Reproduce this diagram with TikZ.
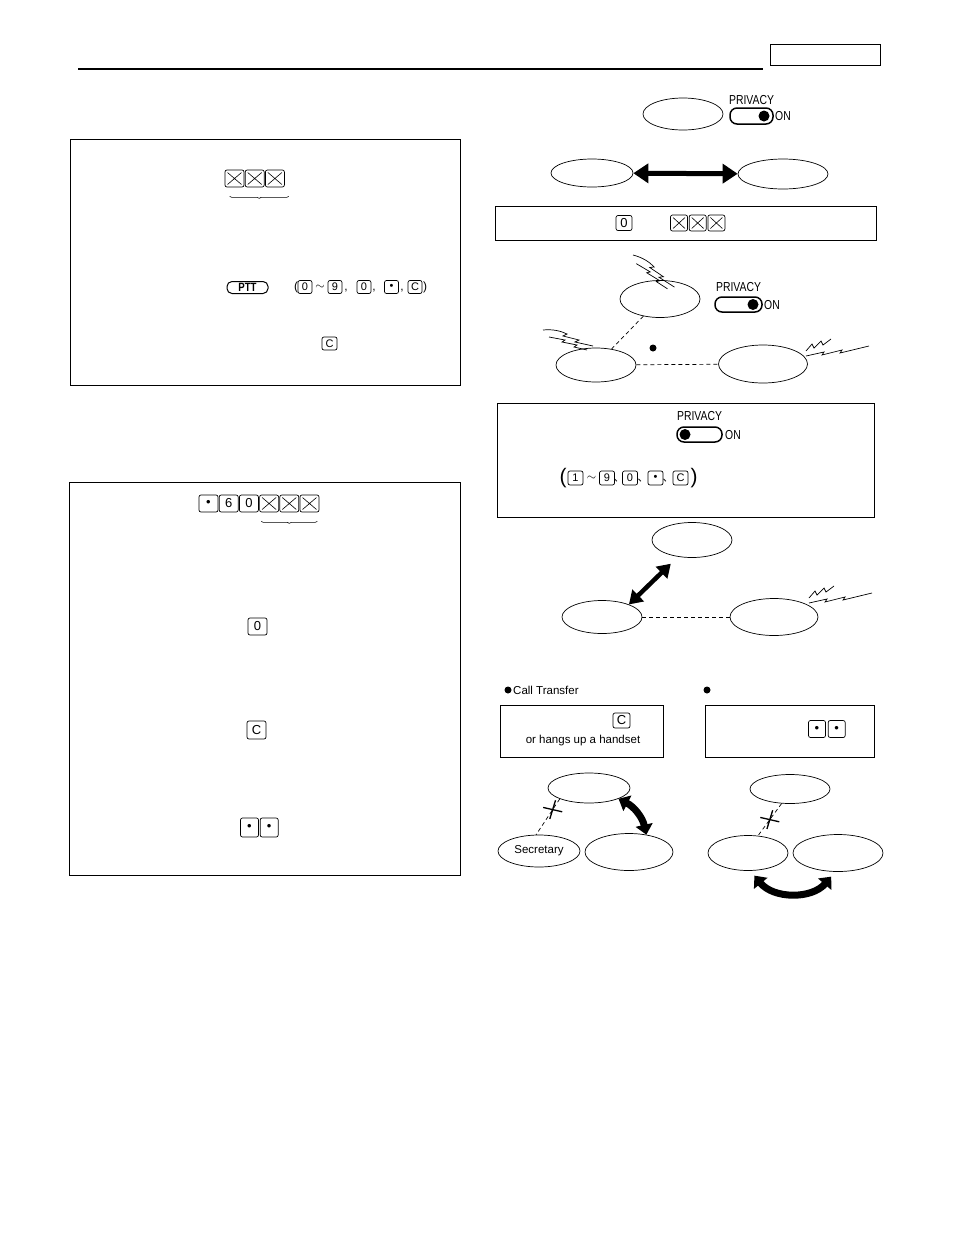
\documentclass[tikz,border=0pt]{standalone}
\usepackage{fontspec}
\setmainfont{Liberation Sans}
\newfontfamily\narrowfont[FakeStretch=0.8]{Liberation Sans}
\newfontfamily\cjkfont{Noto Sans CJK JP}
\usetikzlibrary{arrows.meta, positioning, calc, shapes.geometric, shapes.misc, decorations.pathreplacing}

\begin{document}
\begin{tikzpicture}[
  x=1pt, y=-1pt,
  panel/.style={
    draw,
    line width=0.9pt,
    inner sep=0pt
  },
  phone/.style={
    ellipse,
    draw,
    line width=0.7pt,
    minimum width=80pt,
    minimum height=34pt,
    inner sep=0pt
  },
  key/.style={
    draw,
    line width=0.7pt,
    rounded corners=2pt,
    minimum width=17pt,
    minimum height=16pt,
    inner sep=0pt,
    font=\fontsize{13}{13}\selectfont
  },
  smallkey/.style={
    key,
    minimum width=14pt,
    minimum height=13pt,
    font=\fontsize{11}{11}\selectfont
  },
  xkey/.style={
    key,
    path picture={
      \draw[line width=0.6pt]
        ([shift={(2.5pt,-2.5pt)}]path picture bounding box.north west) --
        ([shift={(-2.5pt,2.5pt)}]path picture bounding box.south east)
        ([shift={(2.5pt,2.5pt)}]path picture bounding box.south west) --
        ([shift={(-2.5pt,-2.5pt)}]path picture bounding box.north east);
    }
  },
  pill/.style={
    draw,
    line width=1.5pt,
    rounded corners=7pt,
    minimum width=44pt,
    minimum height=15pt,
    inner sep=0pt
  },
  knob/.style={circle, fill, inner sep=0pt, minimum size=11pt},
  swlabel/.style={font=\narrowfont\fontsize{13}{13}\selectfont, inner sep=0pt},
  note/.style={font=\fontsize{11.5}{13}\selectfont, inner sep=0pt},
  sign/.style={font=\fontsize{12}{12}\selectfont, inner sep=0pt},
  bulletdot/.style={circle, fill, inner sep=0pt, minimum size=7pt},
  link/.style={dash pattern=on 4pt off 3pt, line width=0.7pt},
  bigarrow/.style={line width=5pt, {Triangle[length=15pt,width=19pt]}-{Triangle[length=15pt,width=19pt]}},
  diagarrow/.style={line width=4.5pt, {Triangle[length=13pt,width=16pt]}-{Triangle[length=13pt,width=16pt]}},
  curvearrow/.style={line width=7pt, {Triangle[length=10pt,width=17pt]}-{Triangle[length=10pt,width=17pt]}},
  cut/.style={cross out, draw, solid, line width=1.3pt, minimum width=13pt, minimum height=12pt, inner sep=0pt},
  underbrace/.style={decorate, decoration={brace, amplitude=2pt, mirror}, line width=0.6pt},
  bolt/.pic={
    \draw[line width=0.7pt] (0,0) .. controls (10,-1) and (18,1) .. (24,4) -- (20,6) -- (36,10) -- (32,12) -- (50,16);
    \draw[line width=0.7pt] (6,7) -- (22,10) -- (19,12) -- (34,15) -- (31,17) -- (44,20);
  },
  ring/.pic={
    \draw[line width=0.7pt] (0,-2) -- (6,-9) -- (8,-5) -- (15,-12) -- (17,-8) -- (25,-14);
    \draw[line width=0.7pt] (0,3) -- (18,-1) -- (16,2) -- (36,-3) -- (34,0) -- (63,-7);
  }
]

\useasboundingbox (0,0) rectangle (954,1235);

% ============================================================
% Page head
% ============================================================

\draw[line width=1.2pt] (78,69) -- (763,69);
\node[panel, minimum width=110pt, minimum height=21pt] (tab) at (825,54.5) {};

% ============================================================
% Left: first panel
% ============================================================

\node[panel, minimum width=390pt, minimum height=246pt] (boxone) at (265,262) {};

\node[xkey, minimum width=19pt, minimum height=17pt] (ax1) at (234.5,178.5) {};
\node[xkey, minimum width=19pt, minimum height=17pt, right=0.5pt of ax1] (ax2) {};
\node[xkey, minimum width=19pt, minimum height=17pt, right=0.5pt of ax2] (ax3) {};
\draw[underbrace] ([shift={(5pt,-9pt)}]ax1.south west) -- ([shift={(4pt,-9pt)}]ax3.south east);

\node[pill, line width=1pt, rounded corners=5pt, minimum width=41pt, minimum height=12pt,
      font=\narrowfont\bfseries\fontsize{12}{12}\selectfont] (ptt) at (247.5,287.5) {PTT};

\node[sign] (ap1) at (296,287) {(};
\node[smallkey] (ak0) at (305,287) {0};
\node[sign] (at1) at (320,287) {$\sim$};
\node[smallkey] (ak9) at (335,287) {9};
\node[sign] (ac1) at (346,291) {,};
\node[smallkey] (akz) at (364,287) {0};
\node[sign] (ac2) at (374,291) {,};
\node[smallkey] (akd) at (391.5,287) {•};
\node[sign] (ac3) at (402,291) {,};
\node[smallkey] (akc) at (415,287) {C};
\node[sign] (ap2) at (425,287) {)};

\node[smallkey, minimum width=15pt] (akc2) at (329.5,343.5) {C};

% ============================================================
% Left: second panel
% ============================================================

\node[panel, minimum width=391pt, minimum height=393pt] (boxtwo) at (264.5,678.5) {};

\node[key, minimum width=19pt, minimum height=17pt] (bk1) at (208.5,503.5) {•};
\node[key, minimum width=19pt, minimum height=17pt, right=0.5pt of bk1] (bk2) {6};
\node[key, minimum width=19pt, minimum height=17pt, right=0.5pt of bk2] (bk3) {0};
\node[xkey, minimum width=19pt, minimum height=17pt, right=0.5pt of bk3] (bk4) {};
\node[xkey, minimum width=19pt, minimum height=17pt, right=0.5pt of bk4] (bk5) {};
\node[xkey, minimum width=19pt, minimum height=17pt, right=0.5pt of bk5] (bk6) {};
\draw[underbrace] ([shift={(2pt,-9pt)}]bk4.south west) -- ([shift={(-2pt,-9pt)}]bk6.south east);

\node[key, minimum width=19pt, minimum height=17pt] (bkz) at (257.5,626.5) {0};
\node[key, minimum width=19pt, minimum height=18pt] (bkc) at (256.5,730) {C};
\node[key, minimum width=18pt, minimum height=19pt] (bkd1) at (249.5,827.5) {•};
\node[key, minimum width=18pt, minimum height=19pt, right=1pt of bkd1] (bkd2) {•};

% ============================================================
% Right: privacy call
% ============================================================

\node[phone, minimum height=32pt] (pa) at (683,114) {};
\node[pill, minimum width=43pt, minimum height=16pt] (swa) at (751.5,116) {};
\node[knob] (kna) at (764,116) {};
\node[swlabel] (pra) at (751.5,100) {PRIVACY};
\node[swlabel, anchor=west] (ona) at (775,116.5) {ON};

\node[phone, minimum width=82pt, minimum height=28pt] (pbl) at (592,173) {};
\node[phone, minimum width=90pt, minimum height=30pt] (pbr) at (783,174) {};
\draw[bigarrow] (pbl) -- (pbr);

\node[panel, minimum width=381pt, minimum height=34pt] (boxa) at (685.5,223) {};
\node[key, minimum width=16pt, minimum height=15pt] (cka) at (624,223) {0};
\node[xkey] (cx1) at (679,223) {};
\node[xkey, right=1pt of cx1] (cx2) {};
\node[xkey, right=1pt of cx2] (cx3) {};

% ============================================================
% Right: third party calls in
% ============================================================

\pic[rotate=-20] at (633,255) {bolt};
\node[phone, minimum height=37pt] (pct) at (660,299) {};
\node[pill, minimum width=47pt] (swb) at (738.5,304.5) {};
\node[knob] (knb) at (753,304.5) {};
\node[swlabel] (prb) at (738.5,287) {PRIVACY};
\node[swlabel, anchor=west] (onb) at (764,305) {ON};

\pic at (543,330) {bolt};
\node[phone] (pcl) at (596,365) {};
\node[phone, minimum width=89pt, minimum height=38pt] (pcr) at (763,364) {};
\pic at (806,353) {ring};
\node[bulletdot] (dc) at (653,348) {};
\draw[link] (pct) -- (pcl);
\draw[link] (pcl) -- (pcr);

\node[panel, minimum width=377pt, minimum height=114pt] (boxb) at (685.5,460) {};
\node[pill, minimum width=45pt] (swc) at (699.5,434.5) {};
\node[knob] (knc) at (685,434.5) {};
\node[swlabel] (prc) at (699.5,416) {PRIVACY};
\node[swlabel, anchor=west] (onc) at (725,435) {ON};

\node[sign, font=\fontsize{21}{21}\selectfont] (bp1) at (563,478) {(};
\node[smallkey, minimum width=15pt, minimum height=14pt] (bq1) at (575.5,478) {1};
\node[sign] (bt1) at (591.5,478) {$\sim$};
\node[smallkey, minimum width=15pt, minimum height=14pt] (bq9) at (607,478) {9};
\node[sign, font=\cjkfont\fontsize{11}{11}\selectfont] (bc1) at (619,481) {、};
\node[smallkey, minimum width=15pt, minimum height=14pt] (bqz) at (630,478) {0};
\node[sign, font=\cjkfont\fontsize{11}{11}\selectfont] (bc2) at (643,481) {、};
\node[smallkey, minimum width=15pt, minimum height=14pt] (bqd) at (655.5,478) {•};
\node[sign, font=\cjkfont\fontsize{11}{11}\selectfont] (bc3) at (668,481) {、};
\node[smallkey, minimum width=15pt, minimum height=14pt] (bqc) at (680.5,478) {C};
\node[sign, font=\fontsize{21}{21}\selectfont] (bp2) at (694,478) {)};

\node[phone, minimum height=35pt] (pdt) at (692,540) {};
\node[phone, minimum height=33pt] (pdl) at (602,617) {};
\node[phone, minimum width=88pt, minimum height=37pt] (pdr) at (774,617) {};
\pic at (809,600) {ring};
\draw[diagarrow, shorten <=10pt] (pdt.-130) -- (pdl.25);
\draw[link] (pdl) -- (pdr);

% ============================================================
% Right: call transfer
% ============================================================

\node[bulletdot] (ba) at (508,690) {};
\node[note, anchor=west] (cttitle) at (513,690.5) {Call Transfer};

\node[panel, minimum width=163pt, minimum height=52pt] (boxc) at (581.5,731) {};
\node[key, minimum height=15pt] (ckc) at (621.5,720.5) {C};
\node[note] (hang) at (583,740.5) {or hangs up a handset};

\node[phone, minimum width=82pt, minimum height=30pt] (pet) at (589,788) {};
\node[phone, minimum width=82pt, minimum height=32pt, font=\fontsize{11.5}{13}\selectfont] (sec) at (539,851) {Secretary};
\node[phone, minimum width=88pt, minimum height=37pt] (per) at (629,852) {};
\draw[link] (pet.south west) -- node[cut, pos=0.3, rotate=30] (cute) {} (sec.100);
\draw[curvearrow] (pet.-20) to[bend left=25] (per.45);

% ============================================================
% Right: second transfer case
% ============================================================

\node[bulletdot] (bb) at (707,690) {};

\node[panel, minimum width=169pt, minimum height=52pt] (boxd) at (789.5,731) {};
\node[key, minimum height=17pt] (cd1) at (817,729) {•};
\node[key, minimum height=17pt, right=2pt of cd1] (cd2) {•};

\node[phone, minimum height=29pt] (pft) at (790,789) {};
\node[phone, minimum height=35pt] (pfl) at (748,853) {};
\node[phone, minimum width=90pt, minimum height=37pt] (pfr) at (838,853) {};
\draw[link] (pft.-120) -- node[cut, pos=0.5, rotate=30] (cutf) {} (pfl.60);
\draw[curvearrow] ([yshift=-5pt]pfl.-70) to[bend right=50] ([yshift=-5pt]pfr.-110);

\end{tikzpicture}
\end{document}
